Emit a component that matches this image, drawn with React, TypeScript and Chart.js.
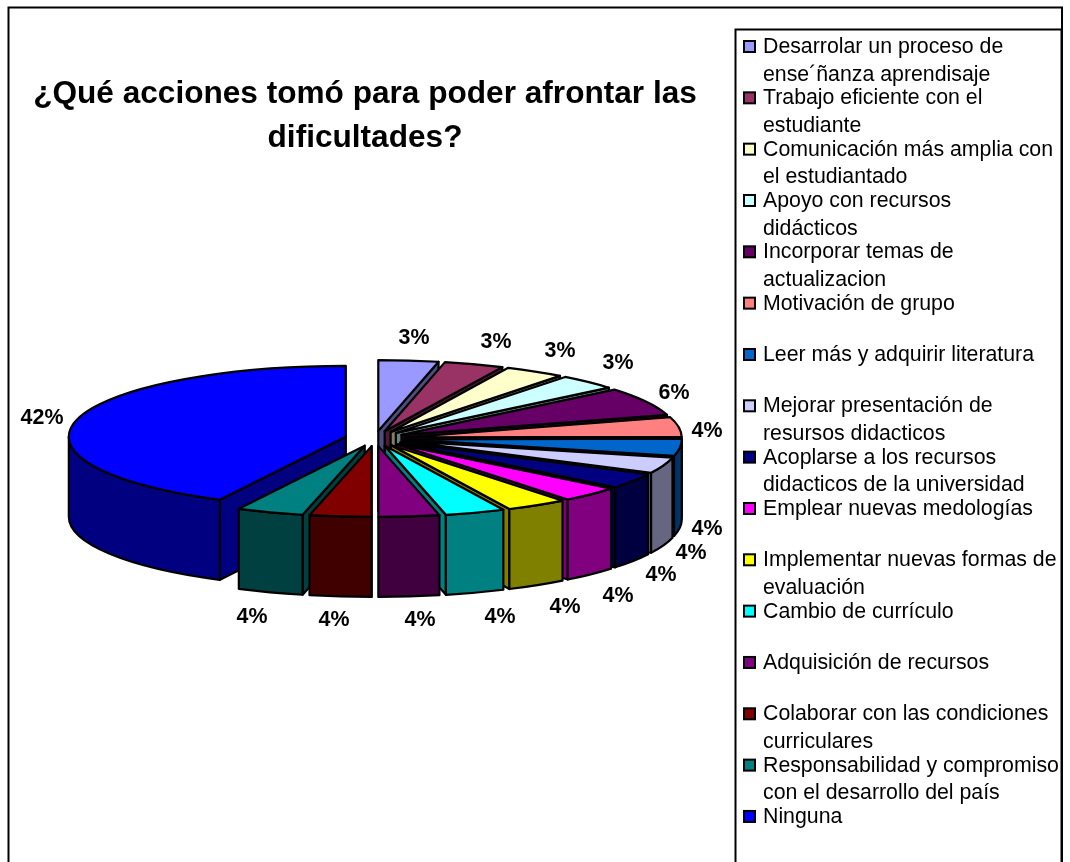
import React, { useEffect, useRef } from "react";
import { Chart, registerables } from "chart.js";

Chart.register(...registerables);

const categories: string[][] = [
  ["Desarrolar un proceso de", "ense´ñanza aprendisaje"],
  ["Trabajo eficiente con el", "estudiante"],
  ["Comunicación más amplia con", "el estudiantado"],
  ["Apoyo con recursos", "didácticos"],
  ["Incorporar temas de", "actualizacion"],
  ["Motivación de grupo"],
  ["Leer más y adquirir literatura"],
  ["Mejorar presentación de", "resursos didacticos"],
  ["Acoplarse a los recursos", "didacticos de la universidad"],
  ["Emplear nuevas medologías"],
  ["Implementar nuevas formas de", "evaluación"],
  ["Cambio de currículo"],
  ["Adquisición de recursos"],
  ["Colaborar con las condiciones", "curriculares"],
  ["Responsabilidad y compromiso", "con el desarrollo del país"],
  ["Ninguna"],
];

// Estimated shares (each rounds to the printed percentage)
const values = [3.49, 3.49, 3.49, 3.49, 6.45, 4.45, 3.9, 3.6, 3.5, 3.5, 3.6, 3.5, 3.54, 3.6, 3.91, 42.49];

const colors = [
  "#9999FF", "#993366", "#FFFFCC", "#CCFFFF", "#660066", "#FF8080", "#0066CC", "#CCCCFF",
  "#000080", "#FF00FF", "#FFFF00", "#00FFFF", "#800080", "#800000", "#008080", "#0000FF",
];

const titleLines = ["¿Qué acciones tomó para poder afrontar las", "dificultades?"];

// Layout (centre of each percentage label)
const labelAnchors: [number, number][] = [
  [414, 338], [496, 342], [560, 351], [618, 363], [674, 393], [707, 431], [707, 529], [691, 553],
  [661, 575], [618, 596], [565, 607], [500, 617], [420, 620], [334, 620], [252, 617], [42, 418],
];

const FONT = '"Liberation Sans", Arial, sans-serif';
const W = 1070;
const H = 862;
const CX = 375;
const CY = 438.5;
const RADIUS = 277;
const SQUASH = 0.2557;
const EXPLODE = 30;
const DEPTH = 80;

function halfTone(hex: string): string {
  const n = parseInt(hex.slice(1), 16);
  const c = [(n >> 16) & 255, (n >> 8) & 255, n & 255].map((v) => Math.round(v / 2));
  return `rgb(${c[0]},${c[1]},${c[2]})`;
}

const pie3d = {
  id: "pie3d",
  beforeDatasetDraw(chart: any, args: any) {
    const ctx: CanvasRenderingContext2D = chart.ctx;
    const arcs = args.meta.data.map((arc: any, i: number) => {
      const a1 = arc.startAngle;
      const a2 = arc.endAngle;
      const mid = (a1 + a2) / 2;
      return {
        arc,
        i,
        a1,
        a2,
        mid,
        r: arc.outerRadius,
        ox: CX + Math.cos(mid) * EXPLODE,
        oy: CY + Math.sin(mid) * EXPLODE * SQUASH,
      };
    });
    arcs.sort((p: any, q: any) => Math.sin(p.mid) - Math.sin(q.mid));
    ctx.save();
    ctx.lineWidth = 2.2;
    ctx.lineJoin = "round";
    ctx.strokeStyle = "#000";
    for (const s of arcs) {
      const ry = s.r * SQUASH;
      const wall = halfTone(colors[s.i]);
      const pt = (a: number, d: number): [number, number] => [
        s.ox + Math.cos(a) * s.r,
        s.oy + Math.sin(a) * ry + d,
      ];
      const side = (a: number) => {
        const [x, y] = pt(a, 0);
        const [xb, yb] = pt(a, DEPTH);
        ctx.beginPath();
        ctx.moveTo(s.ox, s.oy);
        ctx.lineTo(x, y);
        ctx.lineTo(xb, yb);
        ctx.lineTo(s.ox, s.oy + DEPTH);
        ctx.closePath();
        ctx.fillStyle = wall;
        ctx.fill();
        ctx.stroke();
      };
      if (Math.cos(s.a1) < 0) side(s.a1);
      if (Math.cos(s.a2) > 0) side(s.a2);
      const lo = Math.max(s.a1, 0);
      const hi = Math.min(s.a2, Math.PI);
      if (lo < hi) {
        ctx.beginPath();
        ctx.ellipse(s.ox, s.oy, s.r, ry, 0, lo, hi);
        ctx.ellipse(s.ox, s.oy + DEPTH, s.r, ry, 0, hi, lo, true);
        ctx.closePath();
        ctx.fillStyle = wall;
        ctx.fill();
        ctx.stroke();
      }
      ctx.save();
      ctx.translate(s.ox, s.oy);
      ctx.scale(1, SQUASH);
      ctx.translate(-s.arc.x, -s.arc.y);
      s.arc.draw(ctx);
      ctx.restore();
      ctx.beginPath();
      ctx.moveTo(s.ox, s.oy);
      ctx.ellipse(s.ox, s.oy, s.r, ry, 0, s.a1, s.a2);
      ctx.closePath();
      ctx.stroke();
    }
    ctx.restore();
    return false;
  },
};

const frames = {
  id: "frames",
  beforeDraw(chart: any) {
    const ctx: CanvasRenderingContext2D = chart.ctx;
    ctx.save();
    ctx.fillStyle = "#fff";
    ctx.fillRect(0, 0, W, H);
    ctx.strokeStyle = "#000";
    ctx.lineWidth = 2;
    ctx.strokeRect(8.5, 7.5, 1053.5, H + 20);
    ctx.restore();
  },
};

const sideLegend = {
  id: "sideLegend",
  afterDraw(chart: any) {
    const ctx: CanvasRenderingContext2D = chart.ctx;
    ctx.save();
    ctx.strokeStyle = "#000";
    ctx.lineWidth = 2;
    ctx.fillStyle = "#fff";
    ctx.fillRect(735.5, 29.5, 326, H);
    ctx.strokeRect(735.5, 29.5, 326, H + 20);
    ctx.font = `21.3px ${FONT}`;
    ctx.textBaseline = "alphabetic";
    ctx.textAlign = "left";
    categories.forEach((lines, i) => {
      const base = 53 + i * 51.33;
      ctx.fillStyle = colors[i];
      ctx.fillRect(744, base - 12, 11, 11);
      ctx.lineWidth = 2;
      ctx.strokeRect(744, base - 12, 11, 11);
      ctx.fillStyle = "#000";
      lines.forEach((line, j) => ctx.fillText(line, 763, base + j * 27.6));
    });
    // percentage labels
    ctx.font = `bold 21.4px ${FONT}`;
    ctx.textAlign = "center";
    ctx.textBaseline = "middle";
    ctx.fillStyle = "#000";
    values.forEach((v, i) => {
      ctx.fillText(`${Math.round(v)}%`, labelAnchors[i][0], labelAnchors[i][1]);
    });
    ctx.restore();
  },
};

export default function App() {
  const ref = useRef<HTMLCanvasElement | null>(null);
  useEffect(() => {
    if (!ref.current) return;
    const chart = new Chart(ref.current, {
      type: "pie",
      data: {
        labels: categories as any,
        datasets: [
          {
            data: values,
            backgroundColor: colors,
            borderWidth: 0,
            clip: false,
          } as any,
        ],
      },
      options: {
        responsive: false,
        animation: false,
        radius: RADIUS,
        layout: { padding: { left: 0, right: 340, top: 0, bottom: 0 } },
        plugins: {
          legend: { display: false },
          tooltip: { enabled: false },
          title: {
            display: true,
            text: titleLines,
            color: "#000",
            align: "center",
            font: { family: FONT, size: 31.6, weight: "bold", lineHeight: 1.392 },
            padding: { top: 72, bottom: 10 },
          },
        },
      } as any,
      plugins: [frames, pie3d, sideLegend],
    });
    return () => chart.destroy();
  }, []);
  return (
    <canvas
      ref={ref}
      width={W}
      height={H}
      style={{ position: "absolute", left: 0, top: 0, display: "block", width: W, height: H }}
    />
  );
}
